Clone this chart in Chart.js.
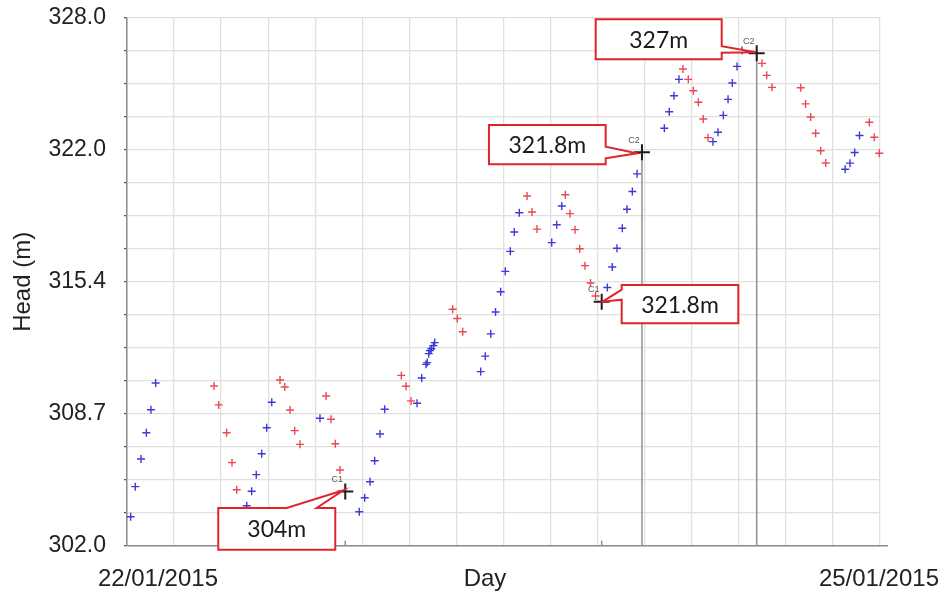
<!DOCTYPE html>
<html>
<head>
<meta charset="utf-8">
<title>Head (m)</title>
<script src="https://cdn.jsdelivr.net/npm/chart.js@4.4.1/dist/chart.umd.min.js"></script>
<style>
  html, body { margin: 0; padding: 0; background: #ffffff; }
  #wrap { width: 946px; height: 592px; position: relative; }
</style>
</head>
<body>
<div id="wrap"><canvas id="chart" width="946" height="592"></canvas></div>
<script>
// Hours since 22/01/2015 00:00 and measured head (m) for the two piezometers
const blueHours = [0.35, 0.79, 1.34, 1.85, 2.29, 2.74,
  11.45, 11.92, 12.36, 12.88, 13.36, 13.84, 18.45,
  22.21, 22.73, 23.24, 23.68, 24.19, 24.64,
  27.73, 28.18, 28.59, 28.71, 28.85, 28.97, 29.10, 29.29, 29.42,
  33.82, 34.26, 34.78, 35.24, 35.73, 36.17, 36.65, 37.03, 37.51,
  40.61, 41.09, 41.57,
  45.93, 46.40, 46.85, 47.36, 47.81, 48.32, 48.77,
  51.38, 51.85, 52.30, 52.78,
  56.03, 56.51, 57.02, 57.47, 57.88, 58.33, 58.81,
  68.67, 69.13, 69.58, 70.04];
const blueHeads = [302.67, 304.25, 305.70, 307.08, 308.29, 309.69,
  303.25, 304.01, 304.88, 305.98, 307.34, 308.68, 307.84,
  302.93, 303.67, 304.51, 305.61, 307.01, 308.31,
  308.63, 309.95, 310.67, 310.76, 311.23, 311.39, 311.49, 311.65, 311.81,
  310.29, 311.10, 312.27, 313.42, 314.48, 315.55, 316.60, 317.62, 318.63,
  317.06, 318.00, 318.98,
  314.70, 315.78, 316.76, 317.81, 318.81, 319.74, 320.67,
  323.06, 323.93, 324.77, 325.63,
  322.36, 322.85, 323.74, 324.58, 325.44, 326.31, 327.14,
  320.91, 321.23, 321.79, 322.68];

const redHours = [8.32, 8.77, 9.53, 10.04, 10.49,
  14.63, 15.08, 15.59, 16.04, 16.54,
  19.03, 19.51, 19.92, 20.37,
  26.23, 26.68, 27.16,
  31.14, 31.58, 32.10,
  38.25, 38.73, 39.20,
  41.91, 42.36, 42.84, 43.29, 43.79, 44.32, 44.80,
  53.16, 53.67, 54.15, 54.63, 55.10, 55.55,
  60.72, 61.17, 61.67,
  64.42, 64.88, 65.37, 65.85, 66.33, 66.81,
  70.98, 71.45, 71.93];
const redHeads = [309.53, 308.54, 307.08, 305.51, 304.09,
  309.85, 309.48, 308.27, 307.19, 306.47,
  309.01, 307.79, 306.50, 305.12,
  310.09, 309.52, 308.75,
  313.56, 313.08, 312.38,
  319.51, 318.67, 317.77,
  319.57, 318.58, 317.74, 316.74, 315.85, 314.94, 314.26,
  326.17, 325.63, 325.03, 324.43, 323.55, 322.57,
  326.47, 325.84, 325.21,
  325.19, 324.34, 323.65, 322.80, 321.88, 321.24,
  323.38, 322.59, 321.75];

// Cursor marks placed on the record
const markNames  = ['C1', 'C1', 'C2', 'C2'];
const markHours  = [20.87, 45.39, 49.24, 60.21];
const markHeads  = [304.0, 313.96, 321.8, 327.0];
const markLabels = ['304m', '321.8m', '321.8m', '327m'];

// Axis text
const headTickLabels = ['302.0', '308.7', '315.4', '322.0', '328.0'];
const dayLabels      = ['22/01/2015', 'Day', '25/01/2015'];
const dayLabelHours  = [2.96, 34.23, 71.9];

const headMin = 301.15, headMax = 328.85;
const hourMin = 0, hourMax = 72;
const gridDivisions = 16;

// Callout bubble geometry, relative to each mark (pixels)
const calloutStyle = [
  { dx: -127, dy: 16.6, w: 117, h: 41.7, side: 'top',   b0: -58.6, b1: -28.6, tx: -2, ty: -1 },
  { dx: 20,   dy: -16.7, w: 116.6, h: 38.3, side: 'left', b0: -12,  b1: -2,   tx: 1,  ty: 0 },
  { dx: -153, dy: -27.4, w: 116.7, h: 39.4, side: 'right', b0: -5.7, b1: 6,   tx: -5, ty: 1 },
  { dx: -161, dy: -34,  w: 126, h: 40,   side: 'right', b0: -7,   b1: -0.5, tx: -1, ty: -1 }
];

const toPoints = (xs, ys) => xs.map((x, i) => ({ x: x, y: ys[i] }));
const evenTicks = (lo, hi) => Array.from({ length: gridDivisions + 1 },
  (_, i) => ({ value: lo + i * (hi - lo) / gridDivisions }));

const gridColor = '#e0e0e0';
const axisColor = '#8c8c8c';

const markerPlugin = {
  id: 'markerCallouts',
  beforeDatasetsDraw(chart) {
    const ctx = chart.ctx;
    const area = chart.chartArea;
    const meta = chart.getDatasetMeta(0);
    ctx.save();
    // bottom axis line
    ctx.strokeStyle = axisColor;
    ctx.lineWidth = 1.5;
    ctx.beginPath();
    ctx.moveTo(area.left, area.bottom);
    ctx.lineTo(area.right + 8, area.bottom);
    ctx.stroke();
    // drop lines of the cursors
    meta.data.forEach((pt, i) => {
      ctx.strokeStyle = '#8f8f8f';
      ctx.lineWidth = 1.5;
      ctx.beginPath();
      if (markNames[i] === 'C2') {
        ctx.moveTo(pt.x, pt.y);
      } else {
        ctx.moveTo(pt.x, area.bottom - 5);
      }
      ctx.lineTo(pt.x, area.bottom);
      ctx.stroke();
    });
    ctx.restore();
  },
  afterDatasetsDraw(chart) {
    const ctx = chart.ctx;
    const meta = chart.getDatasetMeta(0);
    ctx.save();
    meta.data.forEach((pt, i) => {
      const x = pt.x, y = pt.y;
      // cursor name
      ctx.fillStyle = '#555555';
      ctx.font = '9px "Liberation Sans", Arial, sans-serif';
      ctx.textAlign = 'center';
      ctx.textBaseline = 'middle';
      ctx.fillText(markNames[i], x - 8, y - 12);

      // callout bubble
      const s = calloutStyle[i];
      const L = x + s.dx, T = y + s.dy, R = L + s.w, B = T + s.h;
      const tipX = x + s.tx, tipY = y + s.ty;
      ctx.beginPath();
      if (s.side === 'top') {
        ctx.moveTo(L, T);
        ctx.lineTo(x + s.b0, T);
        ctx.lineTo(tipX, tipY);
        ctx.lineTo(x + s.b1, T);
        ctx.lineTo(R, T);
        ctx.lineTo(R, B);
        ctx.lineTo(L, B);
      } else if (s.side === 'right') {
        ctx.moveTo(L, T);
        ctx.lineTo(R, T);
        ctx.lineTo(R, y + s.b0);
        ctx.lineTo(tipX, tipY);
        ctx.lineTo(R, y + s.b1);
        ctx.lineTo(R, B);
        ctx.lineTo(L, B);
      } else {
        ctx.moveTo(L, T);
        ctx.lineTo(R, T);
        ctx.lineTo(R, B);
        ctx.lineTo(L, B);
        ctx.lineTo(L, y + s.b1);
        ctx.lineTo(tipX, tipY);
        ctx.lineTo(L, y + s.b0);
      }
      ctx.closePath();
      ctx.fillStyle = '#ffffff';
      ctx.fill();
      ctx.strokeStyle = '#e0242c';
      ctx.lineWidth = 2;
      ctx.lineJoin = 'miter';
      ctx.stroke();

      ctx.fillStyle = '#1a1a1a';
      ctx.font = '23px Lato, "Open Sans", sans-serif';
      ctx.textAlign = 'center';
      ctx.textBaseline = 'middle';
      ctx.fillText(markLabels[i], (L + R) / 2, (T + B) / 2 + 1);
    });
    ctx.restore();
  }
};

new Chart(document.getElementById('chart'), {
  type: 'scatter',
  data: {
    datasets: [
      {
        label: 'Cursors',
        data: toPoints(markHours, markHeads),
        pointStyle: 'cross',
        radius: 8,
        borderColor: '#1c1c1c',
        borderWidth: 2,
        clip: false
      },
      {
        label: 'Blue',
        data: toPoints(blueHours, blueHeads),
        pointStyle: 'cross',
        radius: 4,
        borderColor: '#3b3bd8',
        borderWidth: 1.4,
        clip: false
      },
      {
        label: 'Red',
        data: toPoints(redHours, redHeads),
        pointStyle: 'cross',
        radius: 4,
        borderColor: '#e84a55',
        borderWidth: 1.4,
        clip: false
      }
    ]
  },
  options: {
    responsive: false,
    animation: false,
    devicePixelRatio: 1,
    layout: { padding: { top: 18, right: 66, left: 0, bottom: 0 } },
    plugins: { legend: { display: false }, tooltip: { enabled: false } },
    elements: { point: { hoverRadius: 4 } },
    scales: {
      x: {
        type: 'linear',
        position: 'bottom',
        min: hourMin,
        max: hourMax,
        afterBuildTicks: s => { s.ticks = evenTicks(hourMin, hourMax); },
        ticks: { display: false },
        grid: { color: gridColor, lineWidth: 1.3, drawTicks: false },
        border: { display: false },
        afterFit: s => { s.height = 0; s.paddingLeft = 0; s.paddingRight = 0; }
      },
      xDay: {
        type: 'linear',
        position: 'bottom',
        min: hourMin,
        max: hourMax,
        afterBuildTicks: s => { s.ticks = dayLabelHours.map(v => ({ value: v })); },
        ticks: {
          callback: (v, i) => dayLabels[i],
          autoSkip: false,
          maxRotation: 0,
          padding: 19,
          color: '#222222',
          font: { family: '"Liberation Sans", Arial, sans-serif', size: 24 }
        },
        grid: { display: false, drawTicks: false },
        border: { display: false },
        afterFit: s => { s.height = 46.3; s.paddingLeft = 0; s.paddingRight = 0; }
      },
      y: {
        type: 'linear',
        min: headMin,
        max: headMax,
        afterBuildTicks: s => { s.ticks = evenTicks(headMin, headMax); },
        ticks: {
          callback: (v, i) => (i % 4 === 0 ? headTickLabels[i / 4] : ''),
          autoSkip: false,
          padding: 18,
          color: '#222222',
          font: { family: '"Liberation Sans", Arial, sans-serif', size: 23 }
        },
        grid: { color: gridColor, lineWidth: 1.3, tickLength: 3, tickColor: '#555555' },
        border: { display: true, color: axisColor, width: 1.5 },
        title: {
          display: true,
          text: 'Head (m)',
          color: '#222222',
          padding: { top: 9, bottom: 0 },
          font: { family: '"Liberation Sans", Arial, sans-serif', size: 24 }
        },
        afterFit: s => { s.width = 127; s.paddingTop = 0; s.paddingBottom = 0; }
      }
    }
  },
  plugins: [markerPlugin]
});
</script>
</body>
</html>
